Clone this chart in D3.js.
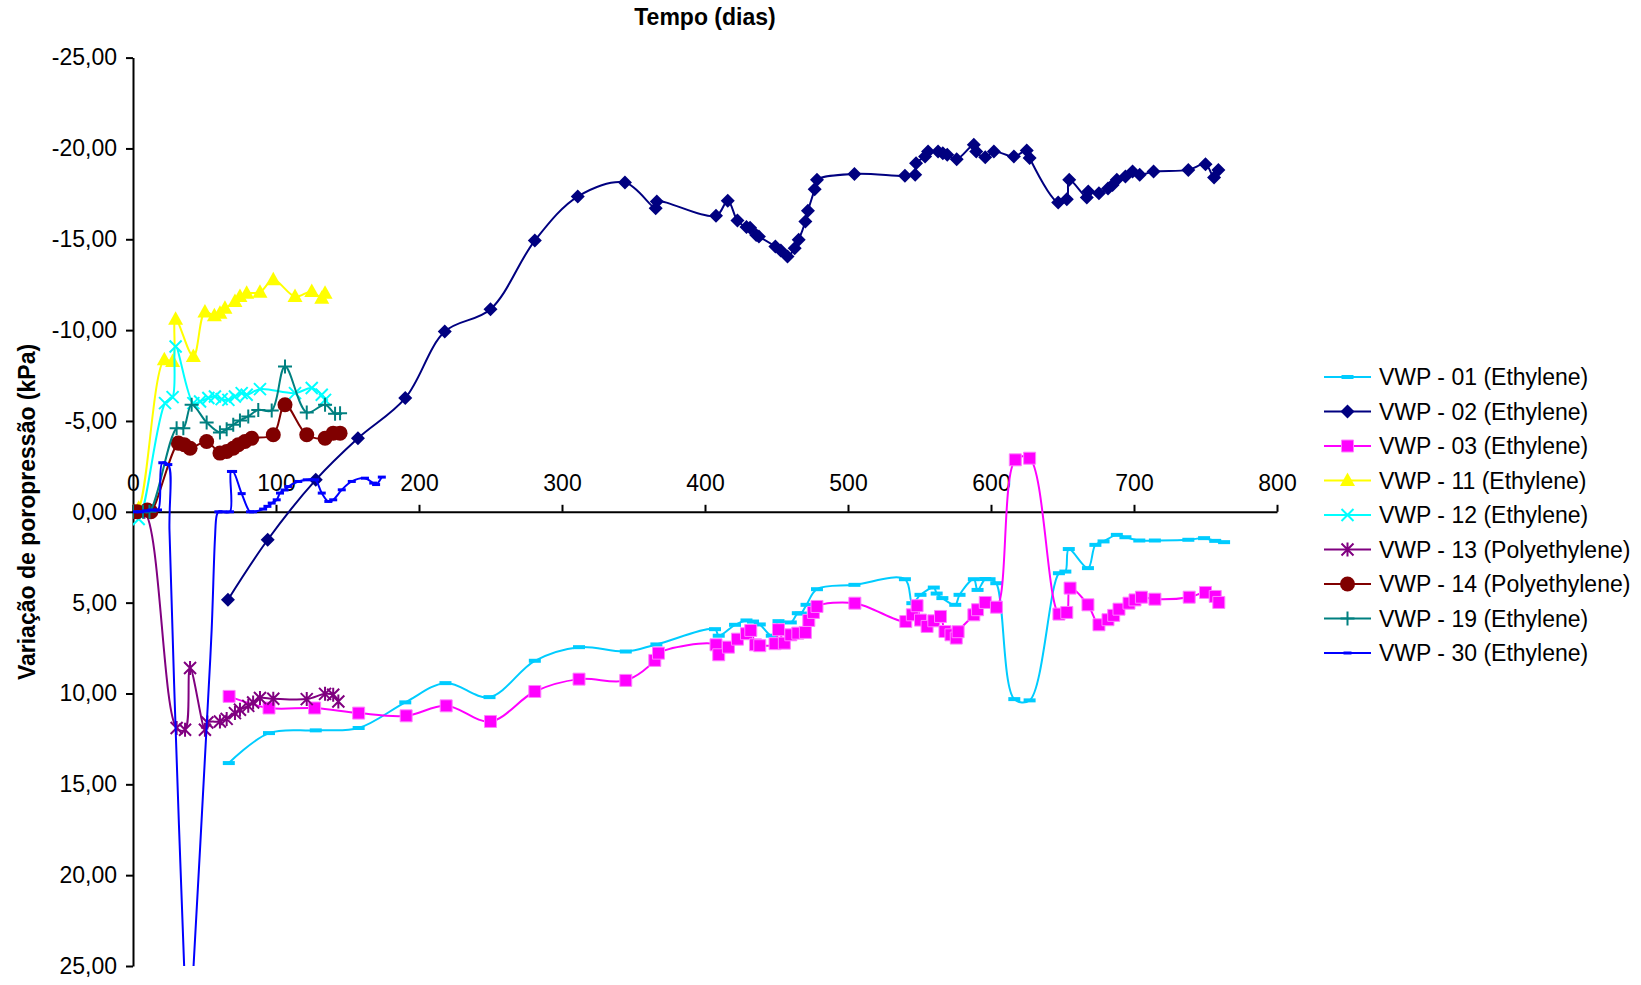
<!DOCTYPE html>
<html>
<head>
<meta charset="utf-8">
<script src="https://cdn.jsdelivr.net/npm/d3@7"></script>
<style>
  body { margin: 0; background: #fff; }
  text { font-family: "Liberation Sans", Arial, sans-serif; }
</style>
</head>
<body>
<div id="chart"></div>
<script>
// ticks
var xTicks = [0, 100, 200, 300, 400, 500, 600, 700, 800];
var yTicks = [-25, -20, -15, -10, -5, 0, 5, 10, 15, 20, 25];

var seriesNames = ["VWP - 01 (Ethylene)", "VWP - 02 (Ethylene)", "VWP - 03 (Ethylene)",
  "VWP - 11 (Ethylene)", "VWP - 12 (Ethylene)", "VWP - 13 (Polyethylene)",
  "VWP - 14 (Polyethylene)", "VWP - 19 (Ethylene)", "VWP - 30 (Ethylene)"];

// [dia, variacao kPa]
var vwp01 = [[67.0,13.83],[95.1,12.18],[127.8,12.03],[157.8,11.9],[190.4,10.49],[218.5,9.43],
  [249.3,10.2],[281,8.2],[311.9,7.45],[344.6,7.69],[366,7.3],[407,6.46],[409.6,6.82],[421,6.22],
  [429,5.98],[433.6,6.04],[438.3,6.2],[446.7,6.82],[451.4,6.02],[460,6.09],[464.9,5.58],[467,5.6],
  [471,5.12],[478.3,4.26],[504.5,4.02],[539.8,3.71],[545,5.03],[550.7,4.57],[560,4.17],[562,4.5],
  [566,4.75],[575,5.12],[578,4.57],[588,3.71],[590.6,4.3],[596,3.7],[599,3.71],[603.7,3.93],
  [616.3,10.31],[627,10.38],[647.5,3.38],[652,3.29],[654.4,2.05],[667.8,3.1],[673,1.82],
  [678.7,1.63],[688,1.27],[694,1.4],[703.7,1.58],[714.6,1.58],[738,1.54],[749,1.45],[756.8,1.6],[763,1.67]];

var vwp02 = [[66.4,4.84],[94.2,1.54],[127.8,-1.76],[157.3,-4.05],[190.4,-6.26],[218,-9.92],
  [250,-11.15],[281,-14.93],[311,-17.35],[344,-18.12],[365.5,-16.71],[366.3,-17.08],[407.7,-16.29],
  [415.9,-17.12],[422.7,-16.03],[429,-15.67],[431.5,-15.63],[435.8,-15.24],[437.7,-15.15],
  [449.2,-14.6],[453,-14.38],[457.7,-14.05],[462.7,-14.51],[465.5,-14.97],[470.2,-15.98],
  [472,-16.57],[476.7,-17.76],[478.3,-18.27],[504.5,-18.6],[539.8,-18.49],[547,-18.55],
  [547.6,-19.19],[553.9,-19.55],[556,-19.83],[563,-19.83],[566.3,-19.74],[569.4,-19.65],
  [576,-19.41],[588,-20.2],[589.7,-19.83],[596,-19.52],[602,-19.83],[616,-19.56],[625,-19.89],
  [627,-19.47],[647,-17.02],[653,-17.2],[654.7,-18.27],[667,-17.3],[668,-17.63],[675.5,-17.54],
  [681.8,-17.8],[685,-17.99],[688,-18.27],[694,-18.45],[699,-18.73],[704,-18.55],[713.7,-18.73],
  [738,-18.82],[750,-19.13],[756,-18.4],[759,-18.82]];

var vwp03 = [[67.2,10.16],[95.1,10.8],[127,10.8],[157.8,11.08],[191,11.23],[219,10.68],[250,11.54],
  [281,9.89],[311.9,9.21],[344.6,9.28],[364.9,8.18],[367.5,7.78],[407.7,7.32],[409.6,7.87],
  [416.4,7.45],[422.7,7.01],[429,6.71],[432,6.53],[435.3,7.32],[438.3,7.37],[449,7.26],[451.4,6.49],
  [455.5,7.23],[460,6.77],[464.9,6.68],[470.2,6.64],[472.6,5.98],[475.8,5.54],[478.3,5.21],
  [504.8,5.03],[540.4,6.04],[545,5.67],[548.3,5.17],[550.7,5.96],[555.3,6.31],[560,6.0],
  [564.7,5.76],[567.8,6.59],[572,6.77],[575.7,6.95],[577,6.6],[588,5.67],[590.6,5.39],[596,4.99],
  [603.8,5.25],[617,-2.86],[627,-2.95],[647.5,5.63],[653,5.54],[655.3,4.2],[667.8,5.12],
  [675.5,6.22],[681.8,5.94],[685.8,5.7],[689.5,5.36],[696.5,5.03],[700.7,4.85],[705.2,4.7],
  [714.6,4.81],[738.6,4.7],[750,4.44],[756.8,4.66],[759.3,4.99]];

var vwp11 = [[0,0],[4,-0.2],[21.9,-8.37],[27.7,-8.27],[29.8,-10.6],[42.2,-8.55],[50.3,-11.0],
  [56.9,-10.79],[60.8,-10.93],[64.3,-11.2],[71.3,-11.57],[74.8,-11.85],[79.5,-12.03],[88.8,-12.09],
  [98.1,-12.77],[113.3,-11.85],[125,-12.13],[132,-11.76],[134.3,-12.03]];

var vwp12 = [[0,0],[4,0.4],[22.4,-5.98],[27.7,-6.31],[29.8,-9.1],[42.2,-5.98],[46.9,-6.07],
  [52.7,-6.26],[57.3,-6.35],[62,-6.2],[66.7,-6.16],[71.3,-6.35],[76,-6.53],[79.5,-6.44],
  [88.8,-6.75],[113.3,-6.53],[125,-6.81],[132,-6.44],[134.3,-6.16]];

var vwp13 = [[0,0],[8,0],[30.5,11.9],[36.4,12.0],[39.9,8.6],[50.3,12.0],[52,11.6],[60.8,11.54],
  [65.5,11.4],[71.3,11.08],[74.8,10.9],[80.6,10.68],[84,10.5],[88.8,10.25],[98.1,10.29],
  [121.5,10.31],[134.3,10.02],[140,10.07],[143.6,10.44]];

var vwp14 = [[0,0],[3,0],[10,-0.1],[12.5,0],[31.7,-3.78],[35.9,-3.69],[39.9,-3.5],[51.5,-3.87],
  [60.8,-3.23],[65.5,-3.32],[70.1,-3.5],[73.6,-3.69],[78.3,-3.87],[83,-4.05],[98.1,-4.24],
  [106.3,-5.89],[121.5,-4.24],[134.3,-4.05],[140,-4.33],[144.8,-4.33]];

var vwp19 = [[0,0],[7,0],[11.5,0],[30.5,-4.6],[35.2,-4.6],[41,-5.89],[51.5,-4.92],[60.8,-4.37],
  [65.5,-4.55],[70.1,-4.79],[74.8,-5.03],[80.6,-5.25],[87.6,-5.61],[97,-5.58],[106.3,-8.0],
  [121.5,-5.47],[134.3,-5.89],[141.3,-5.39],[144.8,-5.43]];

var vwp30 = [[1,0],[5,0],[9,-0.05],[13,-0.1],[17.5,-0.1],[20.5,-2.7],[24.7,-2.6],[25.5,1],
  [29.4,11],[36,25.5],[38.5,30],[42.2,25.2],[51.5,11.8],[55,6.5],[57.3,1.5],[58.5,0.2],
  [59.7,0],[62.5,0],[67.8,0],[68.5,-2.22],[70,-2.22],[76,-1.0],[81.8,0],[84,0],[91,-0.15],
  [94,-0.3],[97,-0.48],[100.5,-0.66],[102.8,-1.03],[106,-1.2],[108.6,-1.39],[115.6,-1.67],
  [121.5,-1.76],[127.4,-1.76],[132,-1.03],[136.6,-0.57],[140,-0.66],[146,-1.21],[153,-1.67],
  [162.2,-1.85],[168,-1.58],[170,-1.5],[174,-1.91]];

var seriesData = [vwp01, vwp02, vwp03, vwp11, vwp12, vwp13, vwp14, vwp19, vwp30];

// styles
var colors = ["#00CCFF", "#000080", "#FF00FF", "#FFFF00", "#00FFFF", "#800080", "#800000", "#008080", "#0000FF"];
var markers = ["dash", "diamond", "square", "triangle", "x", "star", "circle", "plus", "smalldash"];

var width = 1641, height = 985;
var svg = d3.select("#chart").append("svg")
  .attr("width", width)
  .attr("height", height);

var x = d3.scaleLinear().domain([0, 800]).range([133, 1277]);
var y = d3.scaleLinear().domain([-25, 25]).range([57.6, 966]);

function fmt(v) { return v.toFixed(2).replace(".", ","); }

// clip
svg.append("clipPath").attr("id", "plotclip")
  .append("rect")
  .attr("x", 133).attr("y", 57.6)
  .attr("width", 1277 - 133).attr("height", 966 - 57.6);

// axes
svg.append("g")
  .attr("transform", "translate(" + x(0) + ",0)")
  .call(d3.axisLeft(y).tickValues(yTicks).tickFormat(fmt).tickSize(7).tickSizeOuter(0).tickPadding(9));

svg.append("g")
  .attr("transform", "translate(0," + y(0) + ")")
  .call(d3.axisTop(x).tickValues(xTicks).tickFormat(d3.format("d")).tickSize(7).tickSizeOuter(0).tickPadding(14));

svg.selectAll(".domain, .tick line").attr("stroke", "#000").attr("stroke-width", 2);
svg.selectAll(".tick text").attr("fill", "#000").style("font-size", "23px")
  .style("font-family", "'Liberation Sans', Arial, sans-serif");

// titles
svg.append("text")
  .attr("x", 705).attr("y", 25)
  .attr("text-anchor", "middle")
  .style("font-size", "23px").style("font-weight", "bold")
  .text("Tempo (dias)");

svg.append("text")
  .attr("transform", "translate(35,512) rotate(-90)")
  .attr("text-anchor", "middle")
  .style("font-size", "23px").style("font-weight", "bold")
  .text("Variação de poropressão (kPa)");

// markers
function markerPath(type) {
  switch (type) {
    case "diamond": return "M0,-7L7,0L0,7L-7,0Z";
    case "square": return "M-6,-6H6V6H-6Z";
    case "triangle": return "M0,-8L7.5,5.5L-7.5,5.5Z";
    case "dash": return "M-6,-2H6V2H-6Z";
    case "smalldash": return "M-4,-1.5H4V1.5H-4Z";
    case "circle": return d3.symbol(d3.symbolCircle, 177)();
    case "x": return "M-6,-6L6,6M-6,6L6,-6";
    case "plus": return "M-7,0H7M0,-7V7";
    case "star": return "M-6,-6L6,6M-6,6L6,-6M0,-7V7";
  }
}
function isStroked(type) { return type === "x" || type === "plus" || type === "star"; }

function styleMarker(sel, i) {
  var t = markers[i];
  if (isStroked(t)) {
    sel.attr("fill", "none").attr("stroke", colors[i]).attr("stroke-width", 2);
  } else {
    sel.attr("fill", colors[i]).attr("stroke", t === "square" ? "#ff80ff" : "none").attr("stroke-width", 1);
  }
}

var line = d3.line()
  .x(function(d) { return x(d[0]); })
  .y(function(d) { return y(d[1]); })
  .curve(d3.curveCatmullRom.alpha(0.5));

var plot = svg.append("g").attr("clip-path", "url(#plotclip)");

seriesData.forEach(function(data, i) {
  var g = plot.append("g");
  g.append("path")
    .datum(data)
    .attr("d", line)
    .attr("fill", "none")
    .attr("stroke", colors[i])
    .attr("stroke-width", 2);
  // the VWP-30 dip strands carry no visible markers in the original
  var marked = data.filter(function(d) { return markers[i] !== "smalldash" || d[1] <= 0.1; });
  g.selectAll(".m")
    .data(marked)
    .enter()
    .append("path")
    .attr("class", "m")
    .attr("transform", function(d) { return "translate(" + x(d[0]) + "," + y(d[1]) + ")"; })
    .attr("d", markerPath(markers[i]))
    .call(styleMarker, i);
});

// legend
var legend = svg.append("g");
seriesNames.forEach(function(name, i) {
  var ly = 377 + i * 34.5;
  var row = legend.append("g").attr("transform", "translate(0," + ly + ")");
  row.append("line")
    .attr("x1", 1324).attr("x2", 1371)
    .attr("stroke", colors[i]).attr("stroke-width", 2);
  row.append("path")
    .attr("transform", "translate(1347.5,0)")
    .attr("d", markerPath(markers[i]))
    .call(styleMarker, i);
  row.append("text")
    .attr("x", 1379).attr("y", 8)
    .style("font-size", "23px")
    .text(name);
});
</script>
</body>
</html>
